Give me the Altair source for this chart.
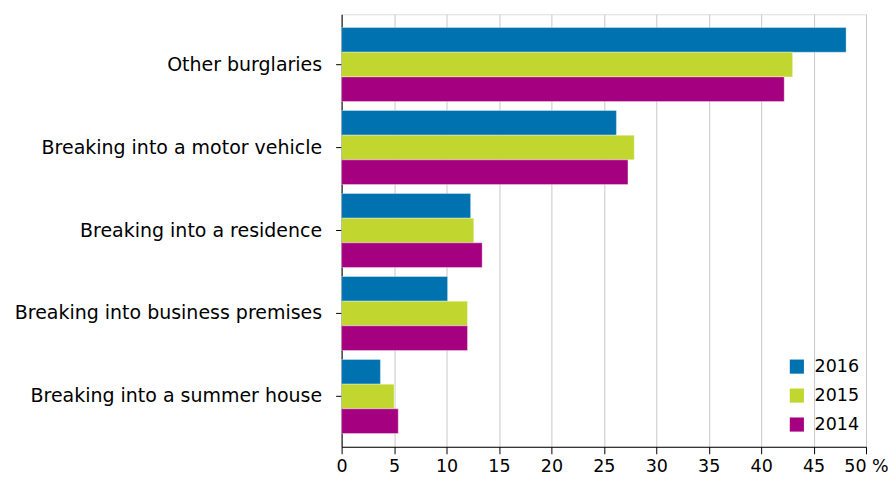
import altair as alt
import pandas as pd

categories = [
    "Other burglaries",
    "Breaking into a motor vehicle",
    "Breaking into a residence",
    "Breaking into business premises",
    "Breaking into a summer house",
]
years = ["2016", "2015", "2014"]
v2016 = [48.1, 26.2, 12.3, 10.1, 3.7]
v2015 = [43.0, 27.9, 12.6, 12.0, 5.0]
v2014 = [42.2, 27.3, 13.4, 12.0, 5.4]
colors = ["#0072b0", "#c1d72f", "#a4007f"]
x_ticks = [0, 5, 10, 15, 20, 25, 30, 35, 40, 45, 50]

rows = []
for yr, vals in zip(years, [v2016, v2015, v2014]):
    for c, v in zip(categories, vals):
        rows.append({"category": c, "year": yr, "value": v})
df = pd.DataFrame(rows)

font = "DejaVu Sans"

chart = alt.Chart(df).mark_bar(stroke="#ffffff", strokeOpacity=0.35, strokeWidth=1).encode(
    x=alt.X(
        "value:Q",
        scale=alt.Scale(domain=[0, 50], nice=False),
        axis=alt.Axis(
            values=x_ticks,
            title=None,
            grid=True,
            gridColor="#c8c8c8",
            gridWidth=1,
            domainColor="#000000",
            tickColor="#000000",
            tickSize=7,
            labelPadding=4,
            labelFont=font,
            labelFontSize=17.5,
            labelColor="#000000",
            labelOverlap=False,
            labelFlush=False,
            labelExpr="datum.value == 50 ? '50 %' : datum.label",
        ),
    ),
    y=alt.Y(
        "category:N",
        sort=categories,
        scale=alt.Scale(paddingInner=0.108, paddingOuter=0.16),
        axis=alt.Axis(
            title=None,
            domainColor="#000000",
            tickColor="#000000",
            tickSize=6,
            labelPadding=14,
            labelFont=font,
            labelFontSize=19,
            labelColor="#000000",
            labelLimit=400,
        ),
    ),
    yOffset=alt.YOffset("year:N", sort=years),
    color=alt.Color(
        "year:N",
        sort=years,
        scale=alt.Scale(domain=years, range=colors),
        legend=alt.Legend(
            title=None,
            orient="none",
            legendX=447,
            legendY=344,
            symbolType="square",
            symbolSize=200,
            symbolStrokeWidth=0,
            labelFont=font,
            labelFontSize=17.5,
            labelColor="#000000",
            rowPadding=10,
            labelOffset=9,
        ),
    ),
).properties(
    width=525,
    height=433,
    autosize=alt.AutoSizeParams(type="none"),
    padding={"left": 334, "top": 6, "right": 22, "bottom": 30},
).configure_view(stroke=None).configure(background="#ffffff")

chart.save("out.html", embed_options={"renderer": "svg", "actions": False})
